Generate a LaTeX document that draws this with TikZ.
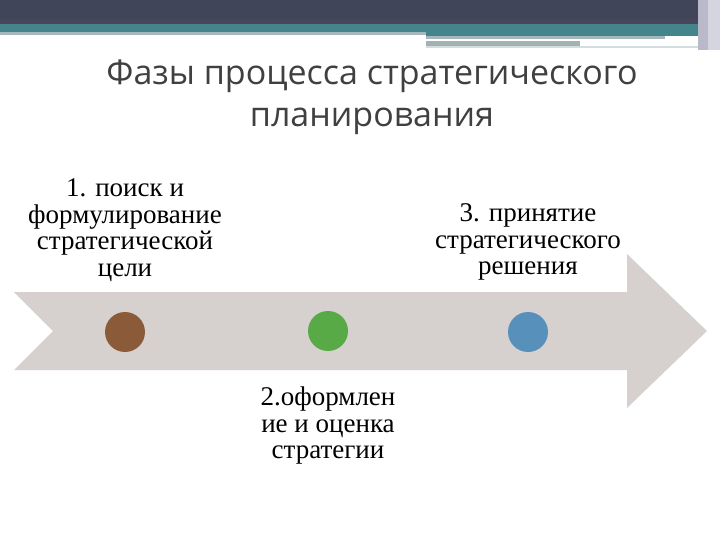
\documentclass[tikz,border=0pt]{standalone}
\usepackage{fontspec}
\setmainfont{Liberation Serif}
\newfontfamily\titlefont{Open Sans}
\definecolor{darkbar}{HTML}{40455A}
\definecolor{darkbarb}{HTML}{47465C}
\definecolor{tealbar}{HTML}{44858C}
\definecolor{lineblue}{HTML}{A6B8BE}
\definecolor{linegray}{HTML}{A2B2B2}
\definecolor{edgegray}{HTML}{B9B9C9}
\definecolor{arrowgray}{HTML}{D6D1CE}
\definecolor{titlegray}{HTML}{404040}
\definecolor{cbrown}{HTML}{8B5A38}
\definecolor{cgreen}{HTML}{58AA46}
\definecolor{cblue}{HTML}{5890BC}
\tikzset{
  px/.style={x=1pt,y=-1pt},
  lbl/.style={align=center,font=\fontsize{27}{26.5}\selectfont,text=black,inner sep=0pt},
  dot/.style={circle,minimum size=40pt,inner sep=0pt},
  ttl/.style={align=center,font=\titlefont\fontsize{34}{42}\selectfont,text=titlegray,inner sep=0pt}
}
\begin{document}
\begin{tikzpicture}[px]
\useasboundingbox (0,0) rectangle (720,540);
% header
\fill[darkbar] (0,0) rectangle (720,24);
\fill[darkbarb] (0,19) rectangle (720,24);
\fill[tealbar] (0,24) rectangle (698,32);
\fill[lineblue] (0,32) rectangle (426,35);
\fill[tealbar] (426,32) rectangle (698,36);
\fill[lineblue] (426,36) rectangle (665,39);
\fill[linegray] (426,41) rectangle (580,46);
\fill[lineblue!50] (426,46) rectangle (698,48);
\fill[edgegray] (698,0) rectangle (720,50);
\fill[edgegray!60] (708,0) rectangle (720,50);
% title
\node[ttl] (title) at (372,97) {Фазы процесса стратегического\\планирования};
% arrow
\fill[arrowgray] (14,292) -- (627,292) -- (627,254) -- (707,331) -- (627,408) -- (627,370) -- (14,370) -- (53,331) -- cycle;
% dots
\node[dot,fill=cbrown] (d1) at (125,332) {};
\node[dot,fill=cgreen] (d2) at (328,331) {};
\node[dot,fill=cblue] (d3) at (528,332) {};
% labels
\node[lbl] (l1) at (125,230) {1. поиск и\\формулирование\\стратегической\\цели};
\node[lbl] (l3) at (528,242) {3. принятие\\стратегического\\решения};
\node[lbl] (l2) at (328,426) {2.оформлен\\ие и оценка\\стратегии};
\end{tikzpicture}
\end{document}
